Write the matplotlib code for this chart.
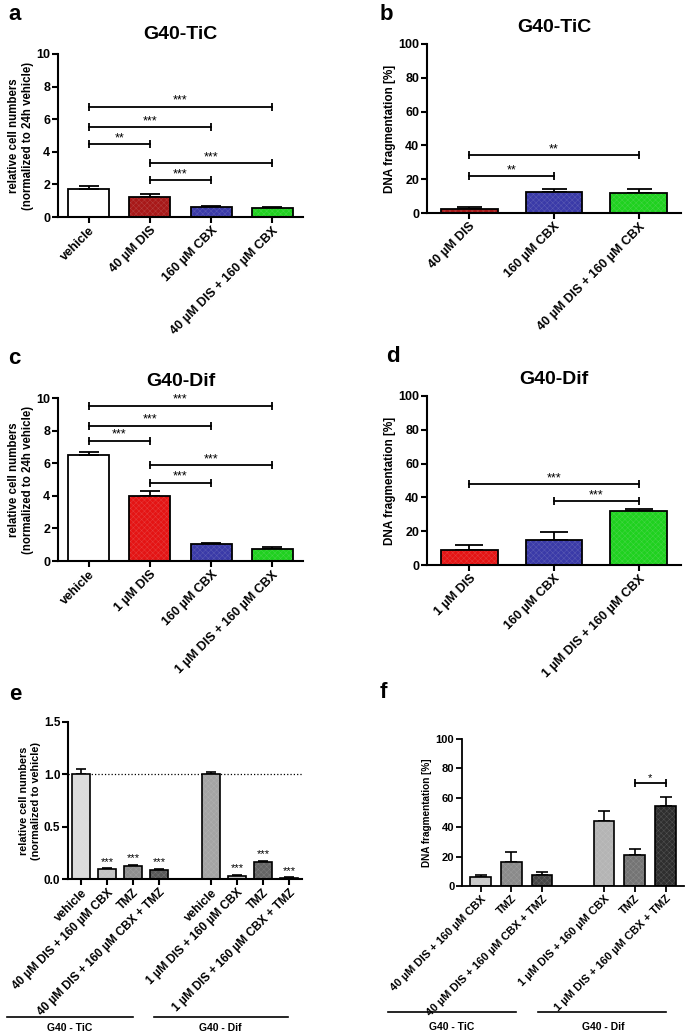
import numpy as np
import matplotlib.pyplot as plt
from matplotlib.lines import Line2D

plt.rcParams['font.family'] = ['Liberation Sans', 'DejaVu Sans']
plt.rcParams['hatch.linewidth'] = 0.35

# ---- data ----
a_labels = ['vehicle', '40 µM DIS', '160 µM CBX', '40 µM DIS + 160 µM CBX']
a_vals = [1.72, 1.25, 0.60, 0.55]
a_err = [0.20, 0.16, 0.05, 0.05]
a_sig = [(0, 3, 6.77, '***'), (0, 2, 5.52, '***'), (0, 1, 4.48, '**'),
         (1, 3, 3.30, '***'), (1, 2, 2.25, '***')]

b_labels = ['40 µM DIS', '160 µM CBX', '40 µM DIS + 160 µM CBX']
b_vals = [2.2, 12.2, 11.6]
b_err = [1.2, 2.0, 2.8]
b_sig = [(0, 2, 34.3, '**'), (0, 1, 21.7, '**')]

c_labels = ['vehicle', '1 µM DIS', '160 µM CBX', '1 µM DIS + 160 µM CBX']
c_vals = [6.53, 4.01, 1.04, 0.74]
c_err = [0.15, 0.31, 0.09, 0.10]
c_sig = [(0, 3, 9.53, '***'), (0, 2, 8.30, '***'), (0, 1, 7.37, '***'),
         (1, 3, 5.88, '***'), (1, 2, 4.79, '***')]

d_labels = ['1 µM DIS', '160 µM CBX', '1 µM DIS + 160 µM CBX']
d_vals = [8.7, 14.8, 32.2]
d_err = [3.0, 4.6, 1.2]
d_sig = [(0, 2, 47.8, '***'), (1, 2, 37.9, '***')]

e_pos = [0, 1, 2, 3, 5, 6, 7, 8]
e_labels = ['vehicle', '40 µM DIS + 160 µM CBX', 'TMZ', '40 µM DIS + 160 µM CBX + TMZ',
            'vehicle', '1 µM DIS + 160 µM CBX', 'TMZ', '1 µM DIS + 160 µM CBX + TMZ']
e_vals = [1.0, 0.093, 0.125, 0.086, 1.0, 0.029, 0.166, 0.007]
e_err = [0.055, 0.012, 0.012, 0.012, 0.025, 0.011, 0.009, 0.009]
e_stars = ['', '***', '***', '***', '', '***', '***', '***']

f_pos = [0, 1, 2, 4, 5, 6]
f_labels = ['40 µM DIS + 160 µM CBX', 'TMZ', '40 µM DIS + 160 µM CBX + TMZ',
            '1 µM DIS + 160 µM CBX', 'TMZ', '1 µM DIS + 160 µM CBX + TMZ']
f_vals = [6.1, 16.4, 7.3, 43.9, 21.4, 54.3]
f_err = [1.2, 6.6, 2.2, 6.8, 3.6, 6.0]
f_sig = [(4, 5, 70.2, '*')]  # indices into f_pos

RED_DARK = '#a81818'
RED = '#e41414'
BLUE = '#3a3aa8'
GREEN = '#1fd11f'

a_colors = ['white', RED_DARK, BLUE, GREEN]
b_colors = [RED_DARK, BLUE, GREEN]
c_colors = ['white', RED, BLUE, GREEN]
d_colors = [RED, BLUE, GREEN]
e_colors = ['#dcdcdc', '#c4c4c4', '#8e8e8e', '#585858',
            '#a4a4a4', '#c8c8c8', '#646464', '#333333']
f_colors = ['#cacaca', '#8a8a8a', '#444444', '#b4b4b4', '#747474', '#2e2e2e']


def shade(c, k=0.8):
    rgb = np.array(plt.matplotlib.colors.to_rgb(c))
    return tuple(np.clip(rgb * k + (1 - k) * 0.9, 0, 1))


def bars(ax, pos, vals, err, colors, width=0.67, lw=1.3, cap=4):
    for x, v, e, c in zip(pos, vals, err, colors):
        if c != 'white':
            ax.bar(x, v, width, color=c, edgecolor=shade(c), hatch='xxxxxx', linewidth=0, zorder=2)
        ax.bar(x, v, width, color='none', edgecolor='black', linewidth=lw, zorder=3)
        ax.errorbar(x, v, yerr=[[0], [e]], color='black', capsize=cap, elinewidth=lw,
                    capthick=lw, zorder=1)


def brackets(ax, sig, pos, size=9):
    for i, j, y, s in sig:
        ax.plot([pos[i], pos[j]], [y, y], color='black', lw=1.3, marker='|',
                markersize=6, markeredgewidth=1.3, zorder=4)
        ax.annotate(s, ((pos[i] + pos[j]) / 2, y), xytext=(0, 0), textcoords='offset points',
                    ha='center', va='bottom', fontsize=size)


def style(ax, tick_size=9, lw=1.5):
    for s in ['top', 'right']:
        ax.spines[s].set_visible(False)
    for s in ['left', 'bottom']:
        ax.spines[s].set_linewidth(lw)
    ax.tick_params(axis='both', width=lw, length=4, labelsize=tick_size, pad=1.5)
    for t in ax.get_yticklabels():
        t.set_fontweight('bold')


fig = plt.figure(figsize=(6.85, 10.35), dpi=100)
W, H = 685, 1035


def axes_px(x0, x1, y0, y1):
    return fig.add_axes([x0 / W, 1 - y1 / H, (x1 - x0) / W, (y1 - y0) / H])


def xlabels(ax, pos, labels, size=8.5):
    ax.set_xticks(pos)
    ax.set_xticklabels(labels, rotation=45, ha='right', rotation_mode='anchor',
                       fontsize=size, fontweight='bold')


# ---- a ----
ax = axes_px(58, 303, 54, 217)
bars(ax, range(4), a_vals, a_err, a_colors, cap=7)
brackets(ax, a_sig, list(range(4)))
ax.set_xlim(-0.5, 3.5)
ax.set_ylim(0, 10)
ax.set_yticks([0, 2, 4, 6, 8, 10])
xlabels(ax, range(4), a_labels)
ax.set_ylabel('relative cell numbers\n(normalized to 24h vehicle)', fontsize=8.3,
              fontweight='bold', labelpad=2)
style(ax)
ax.set_title('G40-TiC', fontsize=14, fontweight='bold', pad=11)

# ---- b ----
ax = axes_px(427, 681, 44, 213)
bars(ax, range(3), b_vals, b_err, b_colors, cap=9)
brackets(ax, b_sig, list(range(3)))
ax.set_xlim(-0.5, 2.5)
ax.set_ylim(0, 100)
ax.set_yticks([0, 20, 40, 60, 80, 100])
xlabels(ax, range(3), b_labels)
ax.set_ylabel('DNA fragmentation [%]', fontsize=8.5, fontweight='bold', labelpad=2)
style(ax)
ax.set_title('G40-TiC', fontsize=14, fontweight='bold', pad=9)

# ---- c ----
ax = axes_px(58, 303, 398, 561)
bars(ax, range(4), c_vals, c_err, c_colors, cap=7)
brackets(ax, c_sig, list(range(4)))
ax.set_xlim(-0.5, 3.5)
ax.set_ylim(0, 10)
ax.set_yticks([0, 2, 4, 6, 8, 10])
xlabels(ax, range(4), c_labels)
ax.set_ylabel('relative cell numbers\n(normalized to 24h vehicle)', fontsize=8.3,
              fontweight='bold', labelpad=2)
style(ax)
ax.set_title('G40-Dif', fontsize=14, fontweight='bold', pad=9)

# ---- d ----
ax = axes_px(427, 681, 396, 565)
bars(ax, range(3), d_vals, d_err, d_colors, cap=10)
brackets(ax, d_sig, list(range(3)))
ax.set_xlim(-0.5, 2.5)
ax.set_ylim(0, 100)
ax.set_yticks([0, 20, 40, 60, 80, 100])
xlabels(ax, range(3), d_labels)
ax.set_ylabel('DNA fragmentation [%]', fontsize=8.5, fontweight='bold', labelpad=2)
style(ax)
ax.set_title('G40-Dif', fontsize=14, fontweight='bold', pad=9)

# ---- e ----
ax = axes_px(68, 302, 722, 879)
bars(ax, e_pos, e_vals, e_err, e_colors, lw=1.2, cap=3.5)
for x, v, e, s in zip(e_pos, e_vals, e_err, e_stars):
    if s:
        ax.annotate(s, (x, v + e), xytext=(0, 1), textcoords='offset points',
                    ha='center', va='bottom', fontsize=8)
ax.axhline(1.0, ls=':', color='black', lw=0.9, zorder=0)
ax.set_xlim(-0.5, 8.5)
ax.set_ylim(0, 1.5)
ax.set_yticks([0, 0.5, 1.0, 1.5])
ax.set_yticklabels(['0.0', '0.5', '1.0', '1.5'])
xlabels(ax, e_pos, e_labels, size=8.2)
ax.set_ylabel('relative cell numbers\n(normalized to vehicle)', fontsize=7.8,
              fontweight='bold', labelpad=2)
style(ax, tick_size=8.5)

# ---- f ----
ax = axes_px(462, 684, 739, 886)
bars(ax, f_pos, f_vals, f_err, f_colors, lw=1.2, cap=4)
brackets(ax, f_sig, f_pos, size=8)
ax.set_xlim(-0.6, 6.6)
ax.set_ylim(0, 100)
ax.set_yticks([0, 20, 40, 60, 80, 100])
xlabels(ax, f_pos, f_labels, size=7)
ax.set_ylabel('DNA fragmentation [%]', fontsize=7.2, fontweight='bold', labelpad=3)
style(ax, tick_size=8, lw=1.3)

# ---- group labels under e and f ----
groups = [(7, 133, 1017, 70, 1028, 'G40 - TiC'), (154, 288, 1017, 220, 1028, 'G40 - Dif'),
          (388, 516, 1012, 452, 1027, 'G40 - TiC'), (538, 666, 1012, 603, 1027, 'G40 - Dif')]
for x0, x1, yl, xt, yt, s in groups:
    fig.add_artist(Line2D([x0 / W, x1 / W], [1 - yl / H, 1 - yl / H], color='black', lw=1.2))
    fig.text(xt / W, 1 - yt / H, s, ha='center', va='center', fontsize=7.5, fontweight='bold')

# ---- panel letters ----
for x, y, s in [(8, 15, 'a'), (380, 15, 'b'), (8, 358, 'c'), (386, 357, 'd'),
                (9, 695, 'e'), (380, 693, 'f')]:
    fig.text(x / W, 1 - y / H, s, ha='left', va='center', fontsize=16, fontweight='bold')

fig.savefig('out.png', dpi=100)
